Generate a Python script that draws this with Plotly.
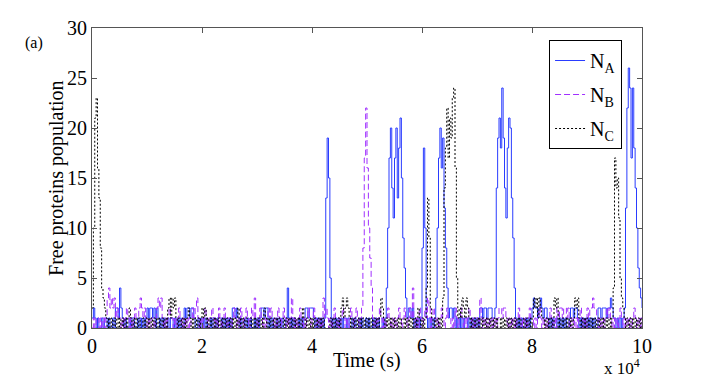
import numpy as np
import plotly.graph_objects as go

# time grid: one sample every 250 s, 0 .. 1e5 s
t = np.arange(401) * 250

# free N_A (blue) - rows of 20 samples (5000 s each)
n_a = (
    [1,2,1,0,1,0,0,1,0,1,1,0,1,0,0,1,0,2,2,1] +
    [4,2,1,0,1,0,0,1,0,1,1,0,0,1,0,1,0,1,0,1] +
    [2,1,2,2,1,2,0,2,1,0,1,0,1,0,0,1,0,1,1,0] +
    [1,0,1,0,1,0,0,2,1,2,2,1,2,2,1,0,0,1,0,1] +
    [0,1,0,1,0,0,1,0,1,1,0,1,0,0,1,0,1,0,1,0] +
    [1,0,2,2,1,2,1,0,1,0,0,1,0,1,0,1,0,0,1,0] +
    [1,0,1,2,2,1,2,2,0,1,0,1,0,0,1,0,1,0,1,0] +
    [0,1,4,1,0,1,0,1,0,0,1,0,1,0,1,2,2,1,2,2] +
    [2,1,0,1,0,1,0,1,0,1,13,19,15,5,0,1,0,1,0,1] +
    [0,1,0,1,1,0,1,0,0,1,0,1,0,0,1,0,1,0,0,1] +
    [0,1,0,0,1,0,1,0,1,0,0,1,0,1,4,10,17,20,14,11] +
    [17,20,13,18,21,15,9,6,3,1,2,2,1,2,0,1,0,1,0,1] +
    [8,18,10,1,0,1,0,1,0,1,3,10,17,20,16,19,12,8,4,1] +
    [2,2,1,2,0,1,0,1,0,1,0,1,1,0,1,0,1,0,1,0] +
    [1,0,2,2,1,2,2,1,2,2,2,1,1,2,14,19,21,18,24,19] +
    [14,11,18,21,20,13,9,4,1,0,1,0,1,0,0,1,0,1,0,1] +
    [2,3,2,2,1,2,3,2,1,2,2,1,0,1,0,1,0,0,1,0] +
    [1,0,1,0,1,0,0,1,2,2,1,2,2,1,0,1,0,1,0,1] +
    [0,1,0,1,0,1,0,0,2,2,1,2,2,2,1,2,2,3,2,1] +
    [1,0,1,0,1,0,1,2,12,22,26,24,17,24,18,14,10,6,4,3] +
    [2]
)

# free N_B (purple, dashed)
n_b = (
    [0,1,0,1,1,0,1,0,1,0,1,3,4,2,3,2,3,1,2,1] +
    [1,0,1,0,1,2,1,0,1,0,1,2,1,1,2,3,2,1,2,1] +
    [0,1,0,1,1,0,1,2,3,2,3,1,0,1,0,1,2,1,1,0] +
    [1,0,1,2,1,0,1,0,1,0,1,0,1,2,1,2,3,1,0,1] +
    [0,1,2,1,0,1,1,2,1,0,1,0,2,1,0,1,2,1,0,1] +
    [1,0,1,2,1,0,1,0,2,1,0,1,2,1,0,1,2,1,3,1] +
    [0,1,2,1,0,1,0,1,2,1,2,1,0,1,0,2,1,0,1,2] +
    [1,0,1,0,1,3,1,0,1,0,1,2,1,0,1,0,1,2,1,0] +
    [1,2,1,0,1,0,1,0,3,1,2,1,0,1,0,1,2,1,0,1] +
    [0,1,2,1,0,1,0,1,2,1,0,1,2,1,0,1,2,8,17,22] +
    [16,10,7,4,1,0,1,0,1,2,1,0,1,0,1,2,1,0,1,0] +
    [1,0,1,2,1,0,1,2,1,0,1,2,1,4,1,0,1,0,2,1] +
    [0,1,2,1,3,2,0,1,2,1,0,1,0,1,2,1,0,1,2,1] +
    [1,0,1,0,2,1,0,1,2,1,0,1,0,1,2,1,0,1,0,1] +
    [1,0,3,1,0,1,0,1,0,1,0,1,0,1,0,1,2,2,1,2] +
    [2,1,0,1,0,1,0,1,0,1,2,1,0,1,0,1,0,1,2,1] +
    [1,0,1,0,1,2,1,0,1,0,1,0,1,2,1,0,1,0,2,1] +
    [2,2,1,2,2,1,2,0,1,0,1,0,1,0,1,2,1,0,1,0] +
    [2,1,2,2,3,2,2,1,0,1,0,1,0,1,2,1,2,1,0,1] +
    [0,1,0,1,2,1,0,1,0,1,0,1,0,1,2,1,0,1,0,1] +
    [0]
)

# free N_C (black, dotted)
n_c = (
    [2,10,21,23,16,13,8,4,3,2,1,0,1,0,1,0,1,0,1,0] +
    [1,0,1,0,1,0,1,2,1,0,1,0,1,0,1,0,0,1,0,1] +
    [0,1,0,1,0,1,0,1,0,1,0,1,0,1,0,2,3,1,3,2] +
    [3,1,0,1,0,1,0,1,0,1,2,1,0,1,0,1,0,1,0,1] +
    [2,1,2,0,1,0,1,0,1,0,1,0,1,0,1,0,1,0,1,0] +
    [1,0,1,0,1,0,2,0,1,0,1,0,1,0,0,1,0,1,0,1] +
    [0,1,0,1,0,2,1,0,1,0,1,0,1,0,1,0,1,0,0,1] +
    [0,1,0,1,0,1,0,1,0,1,0,1,0,2,1,0,1,0,1,0] +
    [1,0,1,0,1,0,1,0,1,0,0,0,0,1,0,1,0,1,0,1] +
    [0,2,3,1,2,3,2,1,0,1,0,1,0,1,0,1,0,1,0,1] +
    [0,1,0,1,0,1,0,1,0,1,3,2,1,0,1,0,1,0,1,0] +
    [1,0,1,0,1,0,0,1,0,1,0,1,0,1,0,1,0,2,1,0] +
    [1,0,1,4,13,9,2,1,0,1,0,1,0,1,0,3,14,18,22,17] +
    [21,19,23,24,16,5,1,2,1,3,2,1,3,2,1,0,1,0,1,0] +
    [1,0,1,0,1,0,1,0,1,0,1,0,1,0,1,0,0,1,0,1] +
    [0,1,0,1,0,1,0,1,0,1,0,1,0,0,1,0,1,0,1,0] +
    [1,3,2,3,1,3,2,1,1,0,1,0,1,0,1,0,3,2,3,0] +
    [1,0,1,0,1,0,1,0,1,0,1,3,2,3,1,0,1,0,1,0] +
    [1,0,1,0,1,0,1,0,1,0,1,0,1,0,1,0,1,0,1,4] +
    [17,14,15,11,5,3,2,1,0,1,0,1,0,1,0,1,0,1,0,1] +
    [0]
)

serif = "Liberation Serif, serif"

fig = go.Figure()
fig.add_trace(go.Scatter(x=t, y=n_a, mode="lines", name="N<sub>A</sub>", legendgroup="a",
                         line=dict(color="#2a3cff", width=1, shape="hv")))
fig.add_trace(go.Scatter(x=t, y=n_b, mode="lines", name="N<sub>B</sub>", legendgroup="b",
                         line=dict(color="#a030ff", width=1, dash="6px,3px", shape="hv")))
fig.add_trace(go.Scatter(x=t, y=n_c, mode="lines", name="N<sub>C</sub>", legendgroup="c",
                         line=dict(color="black", width=1, dash="2px,2px", shape="hv")))

# page body keeps an 8px margin, so the figure is drawn 8px smaller
fig.update_layout(
    width=700, height=369,
    margin=dict(l=84, r=66, t=20, b=49, autoexpand=False),
    paper_bgcolor="white",
    plot_bgcolor="white",
    font=dict(family=serif, size=20, color="black"),
    showlegend=True,
    legend=dict(x=0.831, y=0.96, xanchor="left", yanchor="top",
                bordercolor="black", borderwidth=1, bgcolor="white",
                font=dict(family=serif, size=20), tracegroupgap=5),
)

fig.update_xaxes(
    range=[0, 100000],
    tickvals=[0, 20000, 40000, 60000, 80000, 100000],
    ticktext=["0", "2", "4", "6", "8", "10"],
    ticks="inside", ticklen=5, tickcolor="#555",
    showline=True, linecolor="#555", linewidth=1, mirror="ticks",
    showgrid=False, zeroline=False, automargin=False,
)
fig.update_yaxes(
    range=[0, 30],
    tickvals=[0, 5, 10, 15, 20, 25, 30],
    ticks="inside", ticklen=5, tickcolor="#555",
    showline=True, linecolor="#555", linewidth=1, mirror="ticks",
    showgrid=False, zeroline=False, automargin=False,
)

# axis titles and extra labels
fig.add_annotation(text="Time (s)", xref="paper", yref="paper", x=0.5, y=-0.107,
                   xanchor="center", yanchor="middle", showarrow=False,
                   font=dict(family=serif, size=20))
fig.add_annotation(text="Free proteins population", xref="paper", yref="paper",
                   x=-0.0655, y=0.5, textangle=-90, xanchor="center", yanchor="middle",
                   showarrow=False, font=dict(family=serif, size=20))
fig.add_annotation(text="(a)", xref="paper", yref="paper", x=-0.105, y=0.95,
                   xanchor="center", yanchor="middle", showarrow=False,
                   font=dict(family=serif, size=16))
fig.add_annotation(text="x 10<sup>4</sup>", xref="paper", yref="paper",
                   x=1.0, y=-0.13, xanchor="right", yanchor="middle", showarrow=False,
                   font=dict(family=serif, size=17))

fig.write_html("out.html")
